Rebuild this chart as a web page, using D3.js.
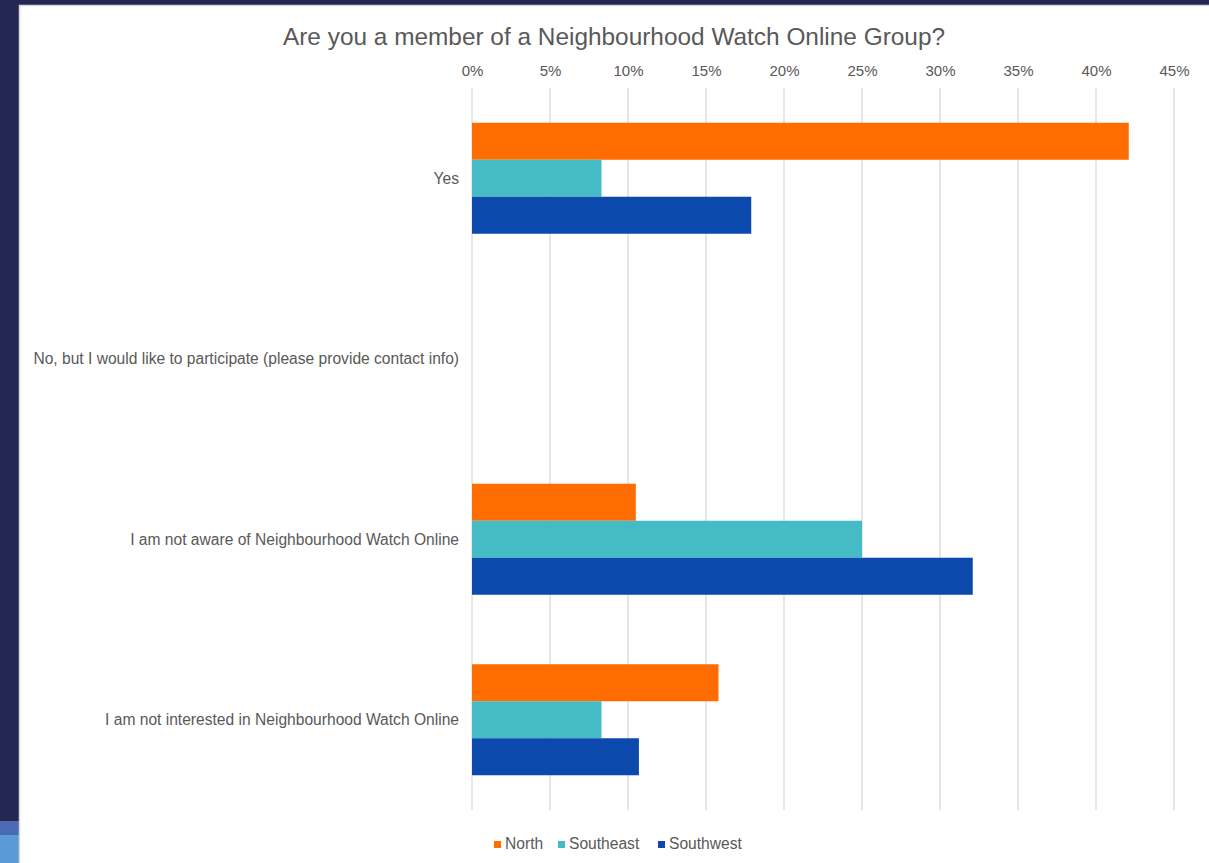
<!DOCTYPE html>
<html>
<head>
<meta charset="utf-8">
<script src="https://cdn.jsdelivr.net/npm/d3@7"></script>
<style>
  html, body { margin: 0; padding: 0; background: #ffffff; }
  svg { display: block; }
  text { font-family: "Liberation Sans", Arial, sans-serif; fill: #595959; }
</style>
</head>
<body>
<svg id="chart" width="1209" height="863"></svg>
<script>
const title = "Are you a member of a Neighbourhood Watch Online Group?";
const categories = [
  "Yes",
  "No, but I would like to participate (please provide contact info)",
  "I am not aware of Neighbourhood Watch Online",
  "I am not interested in Neighbourhood Watch Online"
];
const seriesNames = ["North", "Southeast", "Southwest"];
const north     = [42.1, 0, 10.5, 15.8];
const southeast = [8.3, 0, 25.0, 8.3];
const southwest = [17.9, 0, 32.1, 10.7];
const tickValues = [0, 5, 10, 15, 20, 25, 30, 35, 40, 45];
const colors = ["#ff6d00", "#45bcc5", "#0b49ad"];

const seriesValues = [north, southeast, southwest];
const svg = d3.select("#chart");

// frame
svg.append("rect").attr("x", 0).attr("y", 0).attr("width", 1209).attr("height", 863).attr("fill", "#242752");
svg.append("rect").attr("x", 0).attr("y", 821).attr("width", 19).attr("height", 14).attr("fill", "#4a6ab5");
svg.append("rect").attr("x", 0).attr("y", 835).attr("width", 19).attr("height", 28).attr("fill", "#5b9bd5");
svg.append("rect").attr("x", 19.5).attr("y", 5.5).attr("width", 1195).attr("height", 870)
  .attr("fill", "#ffffff").attr("stroke", "#d9d9d9").attr("stroke-width", 1.5);

const x = d3.scaleLinear().domain([0, 45]).range([472, 1174]);
const y = d3.scaleBand().domain(categories).range([88, 810]).paddingInner(0.385).paddingOuter(0.1925);
const ySub = d3.scaleBand().domain(seriesNames).range([0, y.bandwidth()]);

// gridlines
svg.append("g").selectAll("line").data(tickValues).join("line")
  .attr("x1", d => x(d)).attr("x2", d => x(d))
  .attr("y1", 88).attr("y2", 810)
  .attr("stroke", "#d9d9d9").attr("stroke-width", 1.3);

// top axis labels
const axis = d3.axisTop(x).tickValues(tickValues).tickFormat(d => d + "%").tickSize(0).tickPadding(0);
const ag = svg.append("g").attr("transform", "translate(0,76)").call(axis);
ag.select(".domain").remove();
ag.selectAll("text").style("font-size", "15px").attr("fill", "#595959")
  .style("font-family", "'Liberation Sans', Arial, sans-serif");

// bars
seriesNames.forEach((s, si) => {
  svg.append("g").selectAll("rect").data(categories.map((c, i) => ({c, v: seriesValues[si][i]})))
    .join("rect")
    .attr("x", x(0))
    .attr("y", d => y(d.c) + ySub(s))
    .attr("width", d => x(d.v) - x(0))
    .attr("height", ySub.bandwidth())
    .attr("fill", colors[si]);
});

// category labels
svg.append("g").selectAll("text").data(categories).join("text")
  .attr("x", 459)
  .attr("y", d => y(d) + y.bandwidth() / 2)
  .attr("dy", "0.35em")
  .attr("text-anchor", "end")
  .style("font-size", "15.6px")
  .text(d => d);

// title
svg.append("text").attr("x", 614).attr("y", 45).attr("text-anchor", "middle")
  .style("font-size", "24.4px").text(title);

// legend
const legendX = [494, 558, 658];
const lg = svg.append("g");
seriesNames.forEach((s, i) => {
  lg.append("rect").attr("x", legendX[i]).attr("y", 841).attr("width", 7).attr("height", 7).attr("fill", colors[i]);
  lg.append("text").attr("x", legendX[i] + 11).attr("y", 848.5).style("font-size", "15.6px").text(s);
});
</script>
</body>
</html>
